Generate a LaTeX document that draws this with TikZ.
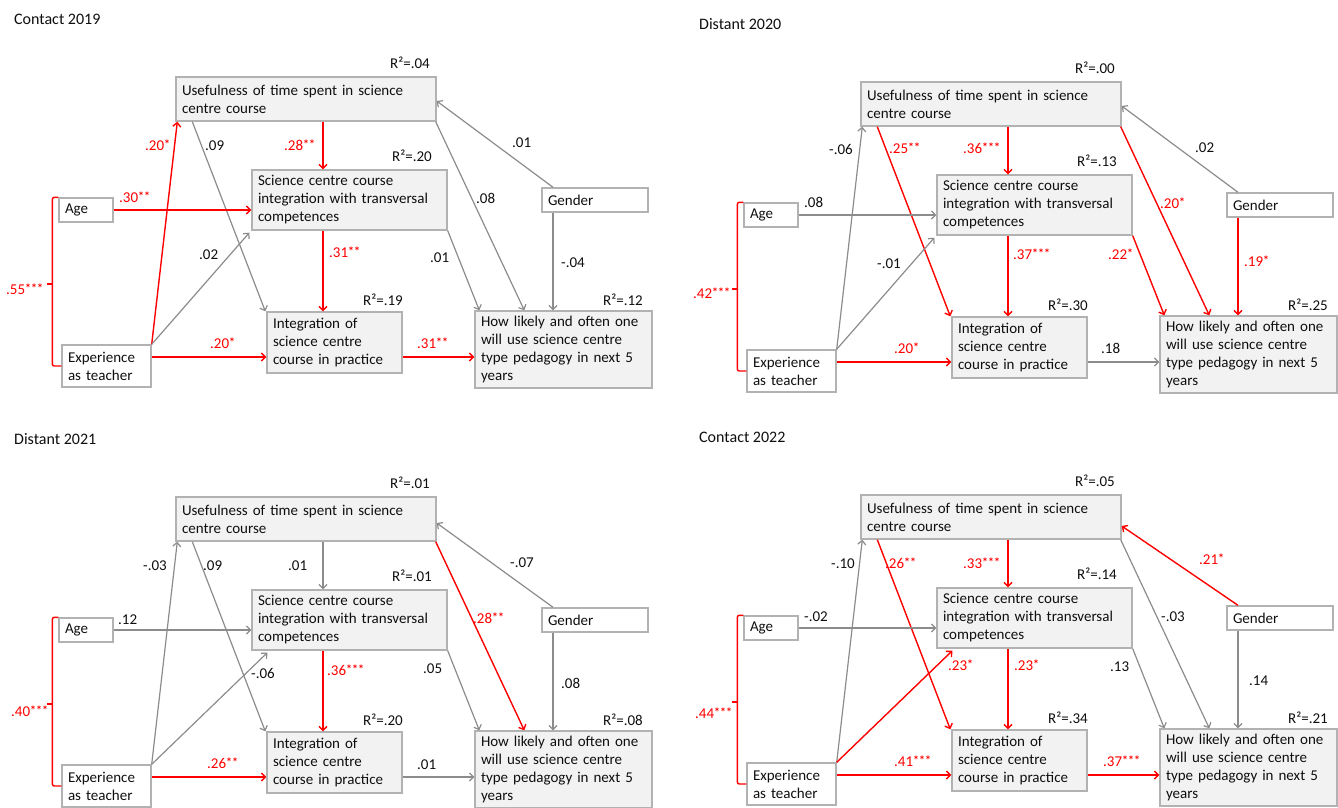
\documentclass[tikz,border=0pt]{standalone}
\usepackage{fontspec}
\setmainfont{Carlito}
\usetikzlibrary{arrows.meta,calc}
\definecolor{sred}{RGB}{255,0,0}
\definecolor{lgray}{RGB}{140,140,140}
\definecolor{bgray}{RGB}{178,178,178}
\definecolor{bfill}{RGB}{242,242,242}
\definecolor{tcol}{RGB}{15,15,15}
\tikzset{
 base/.style={font=\fontsize{15}{18}\selectfont, text=tcol},
 gbox/.style={base, draw=bgray, line width=1.4pt, fill=bfill, align=left, inner xsep=6pt, inner ysep=0pt},
 wbox/.style={gbox, fill=white},
 sig/.style={draw=sred, line width=1.4pt, -{Straight Barb[length=4pt,width=8pt]}},
 ns/.style={draw=lgray, line width=1.2pt, -{Straight Barb[length=4pt,width=8pt]}},
 sl/.style={base, text=sred, anchor=base west, inner sep=0pt},
 nl/.style={base, anchor=base west, inner sep=0pt},
 r2/.style={base, anchor=base east, inner sep=0pt},
 ttl/.style={base, font=\fontsize{16}{19}\selectfont, anchor=base west, inner sep=0pt},
}
\newcommand\st[1]{\raisebox{1.5pt}{\fontsize{12}{12}\selectfont\bfseries #1}}
\newcommand\mkpanel[6]{%
 \node[ttl] (#1title) at (14,24) {#2};
 \node[gbox, text width=248pt, minimum height=44pt] (#1use) at (306,99) {Usefulness of time spent in science\\centre course};
 \node[gbox, text width=183pt, minimum height=60pt] (#1sci) at (349.5,200) {Science centre course\\integration with transversal\\competences};
 \node[wbox, text width=42pt, minimum height=24pt] (#1age) at (86,210) {Age};
 \node[wbox, text width=94pt, minimum height=24pt] (#1gen) at (595,200) {Gender};
 \node[wbox, text width=77pt, minimum height=42pt] (#1exp) at (106.5,366) {Experience\\as teacher};
 \node[gbox, text width=123pt, minimum height=61pt] (#1int) at (334.5,342.5) {Integration of\\science centre\\course in practice};
 \node[gbox, text width=165pt, minimum height=77pt] (#1how) at (563.5,349.5) {How likely and often one\\will use science centre\\type pedagogy in next 5\\years};
 \node[r2] (#1ruse) at (430,68) {R²=#3};
 \node[r2] (#1rsci) at (432,161) {R²=#4};
 \node[r2] (#1rint) at (403,305) {R²=#5};
 \node[r2] (#1rhow) at (643,305) {R²=#6};
 \coordinate (#1c) at (323,0);
 \coordinate (#1g) at (553,0);
 \coordinate (#1r) at (0,357);
 \coordinate (#1k) at (53,284);
 \draw[sig, -, rounded corners=2pt] (#1age.north west) -| ($(#1exp.west)+(-9,0)$) -- (#1exp.west);
 \draw[sig, -] (#1k) -- ++(-6,0);
}
\newcommand\mkedges[1]{%
 \draw[kXU] (#1exp.north east) -- ([xshift=2pt]#1use.south west);
 \draw[kUI] ([xshift=17pt]#1use.south west) -- ([xshift=-1pt]#1int.north west);
 \draw[kUS] (#1use.south -| #1c) -- (#1sci.north -| #1c);
 \draw[kUH] ([xshift=-1pt]#1use.south east) -- ([xshift=50pt]#1how.north west);
 \draw[kGU] (#1gen.north -| #1g) -- ([yshift=\guy]#1use.east);
 \draw[kAS] (#1age.east) -- (#1sci.west |- #1age.east);
 \draw[kXS] (#1exp.north east) -- ([xshift=\xsx,yshift=-2pt]#1sci.south west);
 \draw[kSI] (#1sci.south -| #1c) -- (#1int.north -| #1c);
 \draw[kSH] (#1sci.south east) -- ([xshift=5pt]#1how.north west);
 \draw[kGH] (#1gen.south -| #1g) -- (#1how.north -| #1g);
 \draw[kXI] (#1exp.east |- #1r) -- (#1int.west |- #1r);
 \draw[kIH] (#1int.east |- #1r) -- (#1how.west |- #1r);
}
\begin{document}
\begin{tikzpicture}[x=1pt,y=-1pt]
\fill[white] (0,0) rectangle (1338,807);
\useasboundingbox (0,0) rectangle (1338,807);

% ---------- Contact 2019 ----------
\begin{scope}[kXU/.style=sig, kUI/.style=ns, kUS/.style=sig, kUH/.style=ns, kGU/.style=ns, kAS/.style=sig,
  kXS/.style=ns, kSI/.style=sig, kSH/.style=ns, kGH/.style=ns, kXI/.style=sig, kIH/.style=sig]
\def\xsx{-2pt}\def\guy{-2pt}
\mkpanel{a}{Contact 2019}{.04}{.20}{.19}{.12}
\mkedges{a}
\node[sl] (a1) at (145,150) {.20\st{*}};
\node[nl] (a2) at (205,150) {.09};
\node[sl] (a3) at (284,150) {.28\st{**}};
\node[nl] (a4) at (512,147) {.01};
\node[sl] (a5) at (119,202) {.30\st{**}};
\node[nl] (a6) at (476,203) {.08};
\node[nl] (a7) at (199,259) {.02};
\node[sl] (a8) at (329,257) {.31\st{**}};
\node[nl] (a9) at (430,262) {.01};
\node[nl] (a10) at (561,267) {-.04};
\node[sl] (a11) at (6,294) {.55\st{***}};
\node[sl] (a12) at (210,348) {.20\st{*}};
\node[sl] (a13) at (417,348) {.31\st{**}};
\end{scope}

% ---------- Distant 2020 ----------
\begin{scope}[shift={(685,5)}, kXU/.style=ns, kUI/.style=sig, kUS/.style=sig, kUH/.style=sig, kGU/.style=ns, kAS/.style=ns,
  kXS/.style=ns, kSI/.style=sig, kSH/.style=sig, kGH/.style=sig, kXI/.style=sig, kIH/.style=ns]
\def\xsx{-2pt}\def\guy{-2pt}
\mkpanel{b}{Distant 2020}{.00}{.13}{.30}{.25}
\mkedges{b}
\node[nl] (b1) at (144,149) {-.06};
\node[sl] (b2) at (204,148) {.25\st{**}};
\node[sl] (b3) at (278,148) {.36\st{***}};
\node[nl] (b4) at (510,147) {.02};
\node[nl] (b5) at (119,202) {.08};
\node[sl] (b6) at (475,203) {.20\st{*}};
\node[nl] (b7) at (192,263) {-.01};
\node[sl] (b8) at (328,254) {.37\st{***}};
\node[sl] (b9) at (423,254) {.22\st{*}};
\node[sl] (b10) at (559,261) {.19\st{*}};
\node[sl] (b11) at (8,293) {.42\st{***}};
\node[sl] (b12) at (209,348) {.20\st{*}};
\node[nl] (b13) at (416,348) {.18};
\end{scope}

% ---------- Distant 2021 ----------
\begin{scope}[shift={(0,420)}, kXU/.style=ns, kUI/.style=ns, kUS/.style=ns, kUH/.style=sig, kGU/.style=ns, kAS/.style=ns,
  kXS/.style=ns, kSI/.style=sig, kSH/.style=ns, kGH/.style=ns, kXI/.style=sig, kIH/.style=ns]
\def\xsx{16pt}\def\guy{-4pt}
\mkpanel{c}{Distant 2021}{.01}{.01}{.20}{.08}
\mkedges{c}
\node[nl] (c1) at (143,150) {-.03};
\node[nl] (c2) at (203,150) {.09};
\node[nl] (c3) at (288,150) {.01};
\node[nl] (c4) at (510,147) {-.07};
\node[sl] (c5) at (473,203) {.28\st{**}};
\node[nl] (c6) at (118,204) {.12};
\node[nl] (c7) at (251,258) {-.06};
\node[sl] (c8) at (327,255) {.36\st{***}};
\node[nl] (c9) at (423,253) {.05};
\node[nl] (c10) at (561,268) {.08};
\node[sl] (c11) at (11,296) {.40\st{***}};
\node[sl] (c12) at (207,348) {.26\st{**}};
\node[nl] (c13) at (417,349) {.01};
\end{scope}

% ---------- Contact 2022 ----------
\begin{scope}[shift={(685,418)}, kXU/.style=ns, kUI/.style=sig, kUS/.style=sig, kUH/.style=ns, kGU/.style=sig, kAS/.style=ns,
  kXS/.style=sig, kSI/.style=sig, kSH/.style=ns, kGH/.style=ns, kXI/.style=sig, kIH/.style=sig]
\def\xsx{16pt}\def\guy{-9pt}
\mkpanel{d}{Contact 2022}{.05}{.14}{.34}{.21}
\mkedges{d}
\node[nl] (d1) at (146,150) {-.10};
\node[sl] (d2) at (200,150) {.26\st{**}};
\node[sl] (d3) at (278,150) {.33\st{***}};
\node[sl] (d4) at (514,146) {.21\st{*}};
\node[nl] (d5) at (119,203) {-.02};
\node[nl] (d6) at (476,203) {-.03};
\node[sl] (d7) at (263,252) {.23\st{*}};
\node[sl] (d8) at (329,252) {.23\st{*}};
\node[nl] (d9) at (425,253) {.13};
\node[nl] (d10) at (564,267) {.14};
\node[sl] (d11) at (10,300) {.44\st{***}};
\node[sl] (d12) at (209,348) {.41\st{***}};
\node[sl] (d13) at (418,348) {.37\st{***}};
\end{scope}
\end{tikzpicture}
\end{document}
